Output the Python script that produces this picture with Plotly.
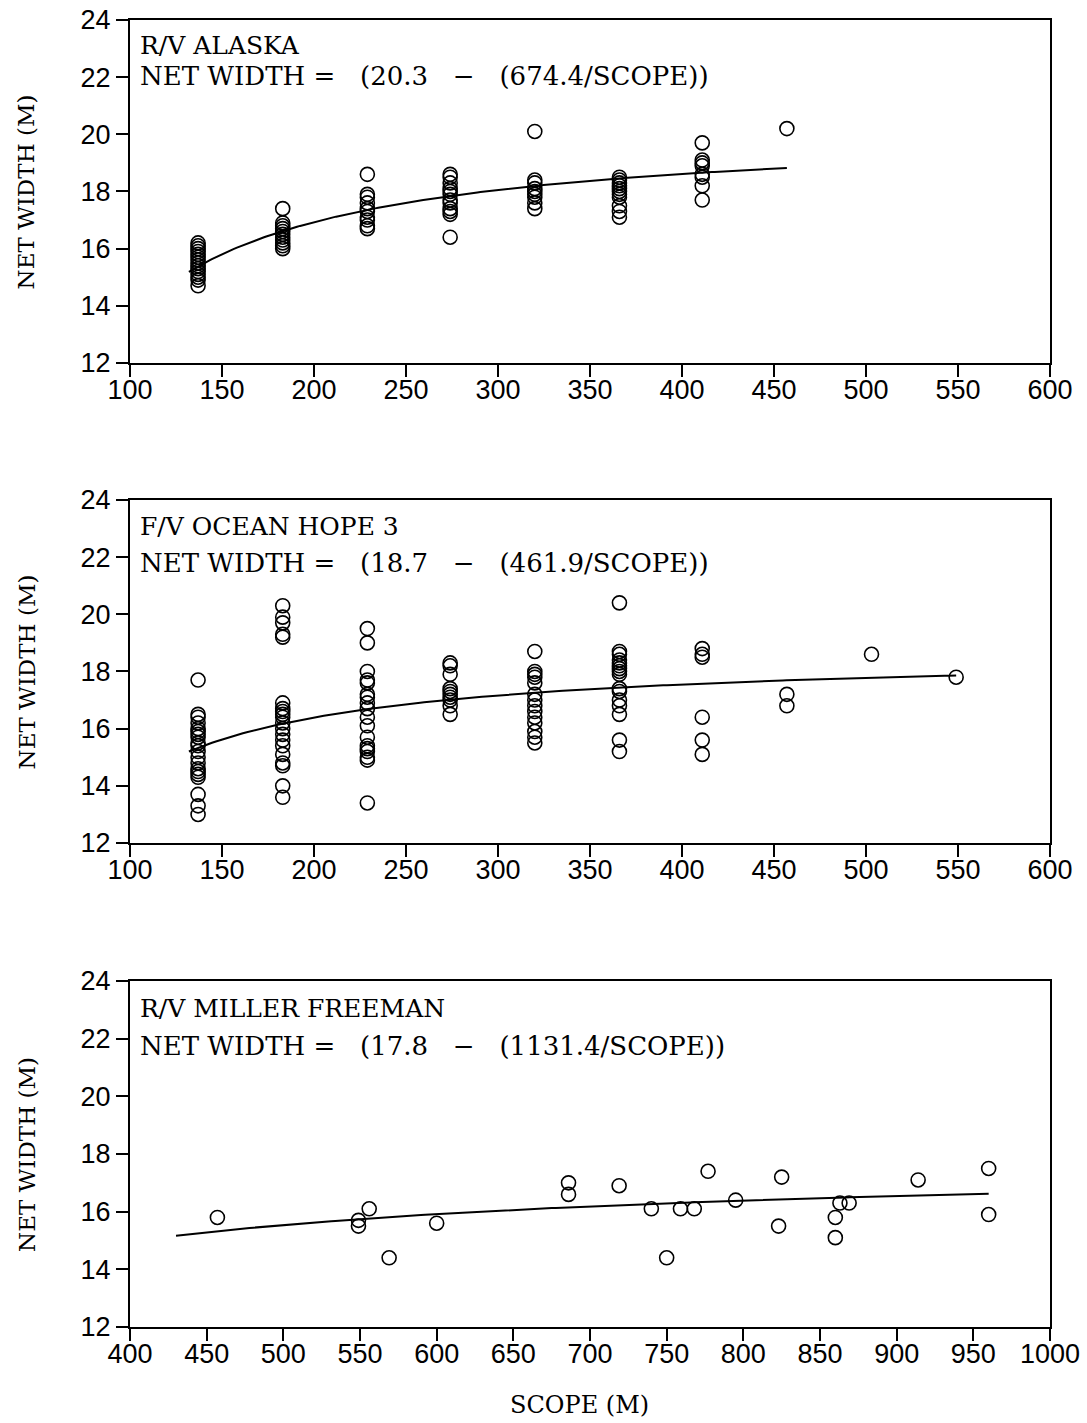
import plotly.graph_objects as go
import numpy as np

# ---------------- DATA ----------------
# R/V ALASKA: scope groups (m) and net widths (m) observed at each scope
alaska_scopes = [137, 183, 229, 274, 320, 366, 411, 457]
alaska_widths = [
    [16.2, 16.1, 16.0, 15.9, 15.8, 15.7, 15.6, 15.5, 15.4, 15.3, 15.2, 15.1, 15.0, 14.9, 14.7],
    [17.4, 16.9, 16.8, 16.7, 16.6, 16.5, 16.4, 16.3, 16.2, 16.1, 16.0],
    [18.6, 17.9, 17.8, 17.6, 17.4, 17.3, 17.1, 17.0, 16.8, 16.7],
    [18.6, 18.5, 18.3, 18.1, 18.0, 17.9, 17.7, 17.6, 17.4, 17.3, 17.2, 16.4],
    [20.1, 18.4, 18.3, 18.1, 18.0, 17.9, 17.8, 17.6, 17.4],
    [18.5, 18.4, 18.3, 18.2, 18.1, 18.0, 17.9, 17.8, 17.5, 17.3, 17.1],
    [19.7, 19.1, 19.0, 18.9, 18.6, 18.5, 18.2, 17.7],
    [20.2],
]
alaska_fit = (20.3, 674.4)
alaska_fit_range = (132, 457)

# F/V OCEAN HOPE 3
hope_scopes = [137, 183, 229, 274, 320, 366, 411, 457, 503, 549]
hope_widths = [
    [17.7, 16.5, 16.4, 16.2, 16.0, 15.9, 15.8, 15.7, 15.5, 15.4, 15.2, 15.0, 14.8, 14.6, 14.5, 14.4, 14.3, 13.7, 13.3, 13.0],
    [20.3, 19.9, 19.7, 19.3, 19.2, 16.9, 16.7, 16.6, 16.5, 16.4, 16.2, 16.0, 15.8, 15.6, 15.4, 15.1, 14.8, 14.7, 14.0, 13.6],
    [19.5, 19.0, 18.0, 17.7, 17.6, 17.2, 17.1, 16.9, 16.7, 16.4, 16.1, 15.7, 15.4, 15.3, 15.2, 15.0, 14.9, 13.4],
    [18.3, 18.2, 17.9, 17.4, 17.3, 17.2, 17.1, 17.0, 16.8, 16.5],
    [18.7, 18.0, 17.9, 17.8, 17.6, 17.2, 17.0, 16.8, 16.6, 16.4, 16.2, 15.9, 15.7, 15.5],
    [20.4, 18.7, 18.6, 18.4, 18.3, 18.2, 18.1, 18.0, 17.9, 17.4, 17.3, 17.0, 16.8, 16.5, 15.6, 15.2],
    [18.8, 18.6, 18.5, 16.4, 15.6, 15.1],
    [17.2, 16.8],
    [18.6],
    [17.8],
]
hope_fit = (18.7, 461.9)
hope_fit_range = (132, 549)

# R/V MILLER FREEMAN (individual tows)
miller_scope = [457, 549, 549, 556, 569, 600, 686, 686, 719, 740, 750, 759, 768, 777,
                795, 823, 825, 860, 860, 863, 869, 914, 960, 960]
miller_width = [15.8, 15.7, 15.5, 16.1, 14.4, 15.6, 17.0, 16.6, 16.9, 16.1, 14.4, 16.1, 16.1, 17.4,
                16.4, 15.5, 17.2, 15.8, 15.1, 16.3, 16.3, 17.1, 17.5, 15.9]
miller_fit = (17.8, 1131.4)
miller_fit_range = (430, 960)

y_ticks = [12, 14, 16, 18, 20, 22, 24]
x_ticks_top = list(range(100, 601, 50))
x_ticks_bottom = list(range(400, 1001, 50))

titles = ["R/V ALASKA", "F/V OCEAN HOPE 3", "R/V MILLER FREEMAN"]

# ---------------- FIGURE ----------------
def flatten(scopes, widths):
    xs, ys = [], []
    for s, ws in zip(scopes, widths):
        xs += [s] * len(ws)
        ys += ws
    return xs, ys

def fit_curve(fit, rng):
    a, b = fit
    xs = np.linspace(rng[0], rng[1], 200)
    return xs, a - b / xs

SERIF = "DejaVu Serif"
SANS = "Liberation Sans"
sp = "\u00a0"

panels = [
    (flatten(alaska_scopes, alaska_widths), fit_curve(alaska_fit, alaska_fit_range), alaska_fit),
    (flatten(hope_scopes, hope_widths), fit_curve(hope_fit, hope_fit_range), hope_fit),
    ((miller_scope, miller_width), fit_curve(miller_fit, miller_fit_range), miller_fit),
]

fig = go.Figure()
for i, ((px, py), (cx, cy), fit) in enumerate(panels):
    suf = "" if i == 0 else str(i + 1)
    fig.add_trace(go.Scatter(x=px, y=py, mode="markers", xaxis="x" + suf, yaxis="y" + suf,
                             marker=dict(symbol="circle-open", size=14, color="black",
                                         line=dict(width=1.6, color="black")),
                             showlegend=False, hoverinfo="x+y"))
    fig.add_trace(go.Scatter(x=cx, y=cy, mode="lines", xaxis="x" + suf, yaxis="y" + suf,
                             line=dict(color="black", width=2), showlegend=False))

domains = [(0.7376, 1.0), (0.3703, 0.6328), (0.0, 0.2647)]
ax_common = dict(showline=True, linewidth=2, linecolor="black", mirror=True,
                 ticks="outside", ticklen=12, tickwidth=2, tickcolor="black",
                 showgrid=False, zeroline=False, automargin=False,
                 tickfont=dict(family=SANS, size=27, color="black"))
layout = dict(width=1087, height=1423, plot_bgcolor="white", paper_bgcolor="white",
              margin=dict(l=130, r=37, t=20, b=96, autoexpand=False), showlegend=False)
for i, dom in enumerate(domains):
    suf = "" if i == 0 else str(i + 1)
    xr = [100, 600] if i < 2 else [400, 1000]
    xt = x_ticks_top if i < 2 else x_ticks_bottom
    layout["xaxis" + suf] = dict(ax_common, domain=[0, 1], anchor="y" + suf, range=xr,
                                 tickvals=xt, ticktext=[str(v) for v in xt],
                                 ticklabelstandoff=-10)
    layout["yaxis" + suf] = dict(ax_common, domain=list(dom), anchor="x" + suf, range=[12, 24],
                                 tickvals=y_ticks, ticktext=[str(v) for v in y_ticks])
fig.update_layout(**layout)

ann_pos = [(0.927, 0.837), (0.924, 0.816), (0.922, 0.812)]
ytitle_pos = [0.8688, 0.5015, 0.1324]
for i, (title, (_, _, fit)) in enumerate(zip(titles, panels)):
    suf = "" if i == 0 else str(i + 1)
    a, b = fit
    eq = (f"NET WIDTH{sp}={sp*3}({a:.1f}{sp*3}\u2212{sp*3}({b:.1f}/SCOPE))")
    fig.add_annotation(text=title, xref="x" + suf + " domain", yref="y" + suf + " domain",
                       x=0.0087, y=ann_pos[i][0], xanchor="left", yanchor="middle",
                       showarrow=False, font=dict(family=SERIF, size=25, color="black"))
    fig.add_annotation(text=eq, xref="x" + suf + " domain", yref="y" + suf + " domain",
                       x=0.0087, y=ann_pos[i][1], xanchor="left", yanchor="middle",
                       showarrow=False, font=dict(family=SERIF, size=26, color="black"))
    fig.add_annotation(text="NET WIDTH (M)", xref="paper", yref="paper", x=-0.112, y=ytitle_pos[i],
                       xanchor="center", yanchor="middle", textangle=-90, showarrow=False,
                       font=dict(family=SERIF, size=23, color="black"))

fig.add_annotation(text="SCOPE (M)", xref="paper", yref="paper", x=0.489, y=-0.0597,
                   xanchor="center", yanchor="middle", showarrow=False,
                   font=dict(family=SERIF, size=24, color="black"))

fig.write_html("out.html", config={"displayModeBar": False},
               post_script="document.body.style.margin='0';document.body.style.overflow='hidden';")
